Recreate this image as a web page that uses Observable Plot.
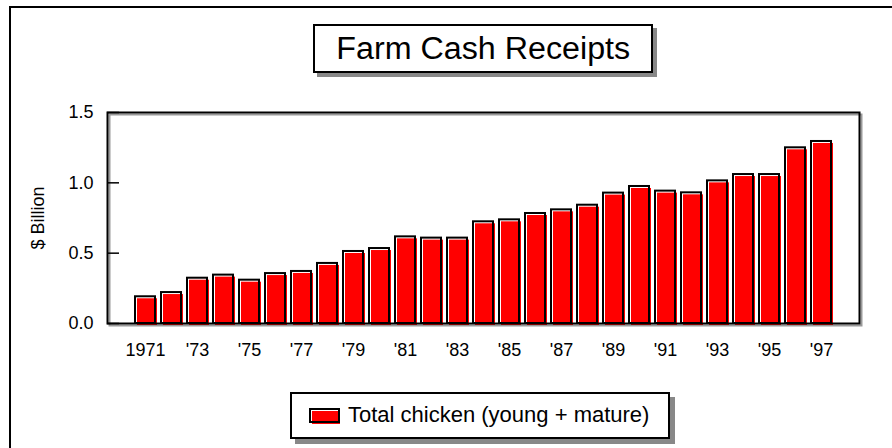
<!DOCTYPE html>
<html><head><meta charset="utf-8">
<script src="https://cdn.jsdelivr.net/npm/d3@7"></script>
<script src="https://cdn.jsdelivr.net/npm/@observablehq/plot@0.6"></script>
<style>
body{margin:0;background:#fff;font-family:"Liberation Sans",Arial,sans-serif;}
#wrap{position:relative;width:892px;height:448px;overflow:hidden;background:#fff;}
#border{position:absolute;left:9px;top:6px;width:1000px;height:1000px;border-left:2px solid #000;border-top:2px solid #000;}
#chart{position:absolute;left:0;top:0;}
#title{position:absolute;left:313px;top:24px;width:336px;height:45px;border:2px solid #000;background:#fff;box-shadow:4px 4px 0 #888;font-size:31px;text-align:center;line-height:46px;color:#000;}
#title span{display:inline-block;transform:scaleX(1.04);}
#legend{position:absolute;left:290px;top:392px;width:376px;height:43px;border:2px solid #000;background:#fff;box-shadow:5px 5px 0 #888;font-size:22px;color:#000;}
#sw{position:absolute;left:17px;top:14px;width:30px;height:14px;}
#sw .f{position:absolute;left:3px;top:3px;width:28px;height:13px;background:#ff0000;}
#sw .o{position:absolute;left:0;top:0;width:27px;height:11px;border:2px solid #000;}
#legend .t{position:absolute;left:56px;top:8px;white-space:nowrap;}
</style>
</head><body>
<div id="wrap">
  <div id="border"></div>
  <div id="chart"></div>
  <div id="title"><span>Farm Cash Receipts</span></div>
  <div id="legend"><div id="sw"><div class="f"></div><div class="o"></div></div><div class="t">Total chicken (young + mature)</div></div>
</div>
<script>
const years = [1971,1972,1973,1974,1975,1976,1977,1978,1979,1980,1981,1982,1983,1984,1985,1986,1987,1988,1989,1990,1991,1992,1993,1994,1995,1996,1997];
const values = [0.19,0.22,0.322,0.344,0.308,0.355,0.37,0.427,0.512,0.533,0.616,0.607,0.607,0.723,0.737,0.782,0.808,0.841,0.927,0.974,0.941,0.929,1.014,1.059,1.059,1.249,1.294];
const yTicks = [0, 0.5, 1.0, 1.5];
const xTickYears = [1971,1973,1975,1977,1979,1981,1983,1985,1987,1989,1991,1993,1995,1997];
const xTickLabels = ["1971","'73","'75","'77","'79","'81","'83","'85","'87","'89","'91","'93","'95","'97"];
const yLabel = "$ Billion";

const data = years.map((y, i) => ({year: y, value: values[i]}));
const labelMap = new Map(xTickYears.map((y, i) => [y, xTickLabels[i]]));

const chart = Plot.plot({
  width: 892, height: 448,
  marginLeft: 107, marginRight: 33, marginTop: 112, marginBottom: 125,
  style: {fontFamily: "'Liberation Sans', Arial, sans-serif", background: "transparent", color: "#000"},
  x: {type: "band", domain: years, paddingInner: 0.23, paddingOuter: 1.075, align: 0.5},
  y: {domain: [0, 1.5]},
  marks: [
    Plot.frame({stroke: "#999", strokeWidth: 2, dx: 2, dy: 2}),
    Plot.barY(data, {x: "year", y: "value", fill: "#ff0000", dx: 2, dy: 2}),
    Plot.barY(data, {x: "year", y: "value", fill: "none", stroke: "#000", strokeWidth: 2}),
    Plot.frame({stroke: "#000", strokeWidth: 2}),
    Plot.axisX(xTickYears, {tickSize: 0, tickPadding: 20, tickFormat: d => labelMap.get(d), fontSize: 18, label: null}),
    Plot.axisY(yTicks, {tickSize: -12, tickPadding: 26, strokeWidth: 1.5, tickFormat: d3.format(".1f"), fontSize: 18, label: null}),
    Plot.text([yLabel], {frameAnchor: "left", textAnchor: "middle", rotate: -90, dx: -69, fontSize: 18, text: d => d})
  ]
});
document.getElementById("chart").appendChild(chart);
</script>
</body></html>
